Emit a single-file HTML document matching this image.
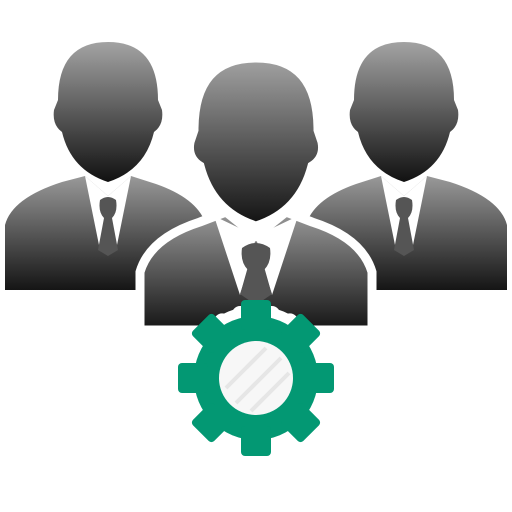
<!DOCTYPE html>
<html><head><style>html,body{margin:0;padding:0;background:#fff}svg{display:block}</style></head>
<body>
<svg width="512" height="512" viewBox="0 0 512 512">
<defs>
<linearGradient id="hg" x1="0" y1="0" x2="0" y2="1"><stop offset="0" stop-color="#a3a3a3"/><stop offset="1" stop-color="#111"/></linearGradient>
<linearGradient id="bg" x1="0" y1="0" x2="0" y2="1"><stop offset="0" stop-color="#999"/><stop offset="1" stop-color="#151515"/></linearGradient>
</defs>
<g>
<path fill="url(#bg)" d="M5,290 L5,225 Q12,198 62,182 L85,176 L108,196 L131,176 L156,184 Q196,198 205,222 L205,290 Z"/>
<path fill="#fff" d="M85,176 L100,250 L108,205 L116,250 L131,176 L108,196 Z"/>
<path fill="#555" d="M100,200 Q108,194 116,200 Q118,212 112,218 L118,250 L108,256 L98,250 L104,218 Q98,212 100,200Z"/>
<path fill="url(#hg)" d="M108,42 Q158,42 158,100 L162,110 Q164,125 154,132 Q145,170 108,182 Q71,170 62,132 Q52,125 54,110 L58,100 Q58,42 108,42Z"/>
</g>
<g>
<path fill="url(#bg)" d="M507,290 L507,225 Q500,198 450,182 L427,176 L404,196 L381,176 L356,184 Q316,198 307,222 L307,290 Z"/>
<path fill="#fff" d="M381,176 L396,250 L404,205 L412,250 L427,176 L404,196 Z"/>
<path fill="#555" d="M396,200 Q404,194 412,200 Q414,212 408,218 L414,250 L404,256 L394,250 L400,218 Q394,212 396,200Z"/>
<path fill="url(#hg)" d="M404,42 Q454,42 454,100 L458,110 Q460,125 450,132 Q441,170 404,182 Q367,170 358,132 Q348,125 350,110 L354,100 Q354,42 404,42Z"/>
</g>
<g>
<path fill="url(#bg)" stroke="#fff" stroke-width="9" d="M140,330 L140,272 Q150,238 200,222 L226,212 L256,236 L286,212 L312,222 Q362,238 372,272 L372,330 Z"/>
<path fill="#fff" d="M214,216 L240,295 L256,238 L272,295 L298,216 L256,236 Z"/>
<path fill="#555" d="M242,248 Q256,238 270,248 Q272,262 264,270 L272,294 L256,305 L240,294 L248,270 Q240,262 242,248Z"/>
<path fill="url(#hg)" stroke="#fff" stroke-width="9" d="M256,58 Q318,58 318,130 L322,142 Q325,158 312,166 Q300,212 256,226 Q212,212 200,166 Q187,158 190,142 L194,130 Q194,58 256,58Z"/>
</g>
<g transform="translate(256,378)">
<g fill="#fff">
<circle r="72"/>
<g id="tw"><rect x="-24" y="-72" width="48" height="40" rx="8"/></g>
<use href="#tw" transform="rotate(45)"/><use href="#tw" transform="rotate(90)"/><use href="#tw" transform="rotate(135)"/><use href="#tw" transform="rotate(180)"/><use href="#tw" transform="rotate(225)"/><use href="#tw" transform="rotate(270)"/><use href="#tw" transform="rotate(315)"/>
</g>
<g fill="#039873">
<circle r="62"/>
<g id="t"><rect x="-15" y="-78" width="30" height="30" rx="4"/></g>
<use href="#t" transform="rotate(45)"/><use href="#t" transform="rotate(90)"/><use href="#t" transform="rotate(135)"/><use href="#t" transform="rotate(180)"/><use href="#t" transform="rotate(225)"/><use href="#t" transform="rotate(270)"/><use href="#t" transform="rotate(315)"/>
</g>
<circle r="37" fill="#f7f7f7"/>
<g stroke="#e6e6e6" stroke-width="4"><line x1="-30" y1="10" x2="10" y2="-30"/><line x1="-20" y1="25" x2="25" y2="-20"/><line x1="-5" y1="33" x2="33" y2="-5"/></g>
</g>
</svg>
</body></html>
